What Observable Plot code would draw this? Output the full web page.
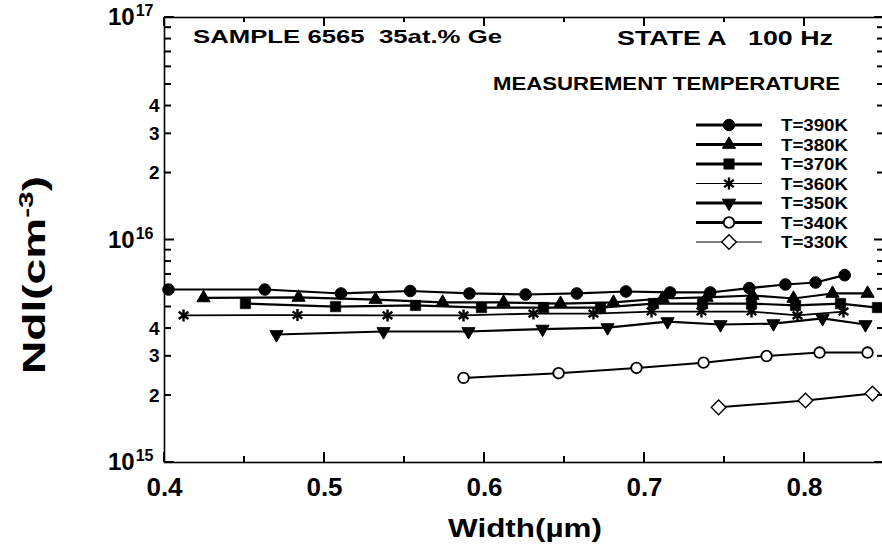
<!DOCTYPE html>
<html><head><meta charset="utf-8">
<script src="https://cdn.jsdelivr.net/npm/d3@7"></script>
<script src="https://cdn.jsdelivr.net/npm/@observablehq/plot@0.6"></script>
<style>
html,body{margin:0;padding:0;overflow:hidden;background:#fff;}
#wrap{position:relative;width:882px;height:550px;overflow:hidden;}
#wrap svg{position:absolute;left:0;top:0;max-width:none;}
</style></head><body><div id="wrap"></div>
<script>
// ---------- data (Nd in units of 1e15 cm^-3, width in µm) ----------
const seriesNames = ["T=390K","T=380K","T=370K","T=360K","T=350K","T=340K","T=330K"];
const width390 = [0.4025,0.4627,0.5103,0.5536,0.5906,0.6257,0.6577,0.6884,0.7160,0.7411,0.7655,0.7881,0.8069,0.8251];
const nd390    = [5.99,5.99,5.75,5.90,5.75,5.69,5.75,5.87,5.81,5.81,6.08,6.31,6.44,6.95];
const width380 = [0.4244,0.4838,0.5319,0.5738,0.6119,0.6475,0.6806,0.7113,0.7388,0.7675,0.7931,0.8175,0.8394];
const nd380    = [5.49,5.52,5.40,5.24,5.24,5.18,5.24,5.46,5.52,5.63,5.46,5.75,5.75];
const width370 = [0.4506,0.5069,0.5569,0.5981,0.6369,0.6725,0.7056,0.7363,0.7669,0.7944,0.8225,0.8456];
const nd370    = [5.18,5.02,5.08,4.97,4.97,4.97,5.18,5.18,5.18,5.08,5.18,4.97];
const width360 = [0.4119,0.4831,0.5394,0.5869,0.6306,0.6681,0.7044,0.7356,0.7669,0.7956,0.8244];
const nd360    = [4.58,4.60,4.58,4.58,4.67,4.67,4.77,4.77,4.77,4.58,4.77];
const width350 = [0.4700,0.5369,0.5900,0.6363,0.6769,0.7144,0.7475,0.7806,0.8113,0.8381];
const nd350    = [3.76,3.88,3.88,3.98,4.04,4.30,4.17,4.21,4.44,4.17];
const width340 = [0.5869,0.6463,0.6950,0.7369,0.7763,0.8094,0.8394];
const nd340    = [2.40,2.52,2.66,2.81,3.01,3.12,3.12];
const width330 = [0.7463,0.8006,0.8425];
const nd330    = [1.77,1.90,2.04];

const xMajorTicks = [0.4,0.5,0.6,0.7,0.8];
const xMinorTicks = [0.45,0.55,0.65,0.75];
const yMajorTicks = [1e15,1e16,1e17];
const yMinorTicks = [2e15,3e15,4e15,5e15,6e15,7e15,8e15,9e15,2e16,3e16,4e16,5e16,6e16,7e16,8e16,9e16];
const ySmallLabels = [2e15,3e15,4e15,2e16,3e16,4e16];

const titleLeft = "SAMPLE 6565  35at.% Ge";
const titleRight = "STATE A   100 Hz";
const legendTitle = "MEASUREMENT TEMPERATURE";
const xLabel = "Width(µm)";

// ---------- symbols ----------
const s3 = Math.sqrt(3);
const invTriangle = {draw(ctx, size){ const y = Math.sqrt(size/(s3*3)); ctx.moveTo(0, 2*y); ctx.lineTo(-s3*y, -y); ctx.lineTo(s3*y, -y); ctx.closePath(); }};
const star6 = {draw(ctx, size){ const r = Math.sqrt(size)*0.55; ctx.moveTo(0,-r); ctx.lineTo(0,r); const a=r*0.8,b=r*0.6; ctx.moveTo(-a,-b); ctx.lineTo(a,b); ctx.moveTo(a,-b); ctx.lineTo(-a,b); }};

const styles = [
  {sym:"circle",   d3sym:d3.symbolCircle,   r:5.8, fill:"black", sw:1,   lw:2.2, legLw:2.8},
  {sym:"triangle", d3sym:d3.symbolTriangle, r:4.9, fill:"black", sw:1,   lw:2.2, legLw:2.8},
  {sym:"square",   d3sym:d3.symbolSquare,   r:5.9, fill:"black", sw:0.5, lw:2.2, legLw:2.8},
  {sym:star6,      d3sym:star6,             r:6.2, fill:"none",  sw:2.4, lw:1.8, legLw:1.2},
  {sym:invTriangle,d3sym:invTriangle,       r:4.9, fill:"black", sw:1,   lw:2.2, legLw:2.8},
  {sym:"circle",   d3sym:d3.symbolCircle,   r:5.3, fill:"white", sw:1.8, lw:2.0, legLw:2.8},
  {sym:"diamond2", d3sym:d3.symbolDiamond2, r:6.6, fill:"white", sw:1.4, lw:2.0, legLw:1.2}
];

const widths = [width390,width380,width370,width360,width350,width340,width330];
const nds = [nd390,nd380,nd370,nd360,nd350,nd340,nd330];
const tables = seriesNames.map((name,i)=> widths[i].map((w,j)=>({series:name, width:w, nd:nds[i][j]*1e15})));

const font = "'Liberation Sans', Arial, sans-serif";
const marks = [];
tables.forEach((t,i)=>{
  marks.push(Plot.line(t, {x:"width", y:"nd", stroke:"black", strokeWidth:styles[i].lw}));
});
tables.forEach((t,i)=>{
  const st = styles[i];
  marks.push(Plot.dot(t, {x:"width", y:"nd", symbol:st.sym, r:st.r, fill:st.fill, stroke:"black", strokeWidth:st.sw}));
});
marks.push(Plot.frame({stroke:"black", strokeWidth:1.6}));
// tick labels
marks.push(Plot.axisX({ticks:xMajorTicks, anchor:"bottom", tickSize:0, tickPadding:15, fontSize:26, fontWeight:"bold", tickFormat:d=>d.toFixed(1), label:null}));
marks.push(Plot.axisY({ticks:ySmallLabels, anchor:"left", tickSize:0, tickPadding:5, fontSize:19, fontWeight:"bold", tickFormat:d=>String(Math.round(d/10**Math.floor(Math.log10(d)+1e-9))), label:null}));
marks.push(Plot.axisY({ticks:yMajorTicks, anchor:"left", tickSize:0, tickPadding:11, fontSize:24, fontWeight:"bold", tickFormat:d=>"10^"+Math.round(Math.log10(d)), label:null}));

const chart = Plot.plot({
  width: 886, height: 550,
  marginLeft: 164, marginRight: 2, marginTop: 17, marginBottom: 88,
  style: {fontFamily: font, background:"white", color:"black", maxWidth:"none", overflow:"visible"},
  x: {domain:[0.4,0.85]},
  y: {type:"log", domain:[1e15,1e17]},
  marks
});
document.getElementById("wrap").appendChild(chart);

// superscripts for decade labels
d3.select(chart).selectAll("text").each(function(){
  const m = this.textContent.match(/^10\^(\d+)$/);
  if (m) {
    const t = d3.select(this);
    t.text("");
    t.append("tspan").text("10");
    t.append("tspan").attr("dx", 1).attr("dy", -9).attr("font-size", 16).text(m[1]);
  }
});

// ---------- overlay: inward ticks (from the plot's own scales), annotations, legend ----------
const sx = chart.scale("x"), sy = chart.scale("y");
const X = d3.scaleLinear().domain(sx.domain).range(sx.range);
const Y = d3.scaleLog().domain(sy.domain).range(sy.range);
const [fx0, fx1] = sx.range, [fy0, fy1] = sy.range; // fy0 = bottom, fy1 = top

const ov = d3.select("#wrap").append("svg").attr("width",882).attr("height",550)
  .style("font-family", font).style("font-weight","bold").style("pointer-events","none");
const tickG = ov.append("g").attr("stroke","black").attr("stroke-width",2).attr("fill","none");
function tick(x1,y1,x2,y2){ tickG.append("line").attr("x1",x1).attr("y1",y1).attr("x2",x2).attr("y2",y2); }
xMajorTicks.forEach(v=>{ tick(X(v), fy0, X(v), fy0-10); tick(X(v), fy1, X(v), fy1+9); });
xMinorTicks.forEach(v=>{ tick(X(v), fy0, X(v), fy0-6); tick(X(v), fy1, X(v), fy1+5); });
yMajorTicks.forEach(v=>{ tick(fx0, Y(v), fx0+10, Y(v)); tick(fx1, Y(v), fx1-10, Y(v)); });
yMinorTicks.forEach(v=>{ tick(fx0, Y(v), fx0+7, Y(v)); tick(fx1, Y(v), fx1-7, Y(v)); });

function txt(s, x, y, size, len){
  return ov.append("text").attr("x",x).attr("y",y).attr("font-size",size)
    .style("white-space","pre").attr("textLength",len).attr("lengthAdjust","spacingAndGlyphs").text(s);
}
txt(titleLeft, 193, 43, 19, 309);
txt(titleRight, 617, 45, 20, 216);
txt(legendTitle, 493, 90, 19, 347);
txt(xLabel, 448, 537, 26, 154);

// y label with superscript
const yl = ov.append("text").attr("transform","translate(45,274) rotate(-90)")
  .attr("x",-100).attr("y",0).attr("font-size",31).attr("textLength",198).attr("lengthAdjust","spacingAndGlyphs");
yl.append("tspan").text("Ndl(cm");
yl.append("tspan").attr("dy",-12).attr("font-size",20).text("-3");
yl.append("tspan").attr("dy",12).text(")");

// legend
seriesNames.forEach((name,i)=>{
  const st = styles[i];
  const y = 125 + 19.5*i;
  ov.append("line").attr("x1",696).attr("x2",762).attr("y1",y).attr("y2",y)
    .attr("stroke","black").attr("stroke-width",st.legLw);
  ov.append("path").attr("transform",`translate(729,${y})`)
    .attr("d", d3.symbol().type(st.d3sym).size(Math.PI*st.r*st.r)())
    .attr("fill", st.fill).attr("stroke","black").attr("stroke-width",st.sw);
  txt(name, 781, y+6, 16, 67);
});
</script></body></html>
